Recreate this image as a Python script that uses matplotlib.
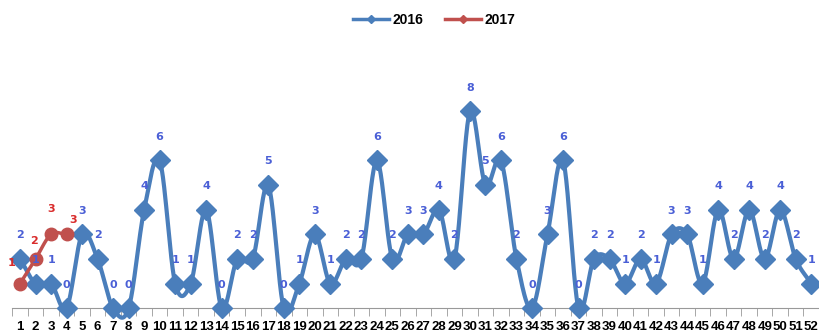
"""Weekly counts 2016 vs 2017, smoothed line chart."""

import matplotlib

matplotlib.use("Agg")
import matplotlib.pyplot as plt
import numpy as np

weeks = list(range(1, 53))
values_2016 = [2, 1, 1, 0, 3, 2, 0, 0, 4, 6, 1, 1, 4, 0, 2, 2, 5, 0, 1, 3,
               1, 2, 2, 6, 2, 3, 3, 4, 2, 8, 5, 6, 2, 0, 3, 6, 0, 2, 2, 1,
               2, 1, 3, 3, 1, 4, 2, 4, 2, 4, 2, 1]
weeks_2017 = [1, 2, 3, 4]
values_2017 = [1, 2, 3, 3]

BLUE = "#4a7ebb"
RED = "#c0504d"
BLUE_TEXT = "#4a5fd6"
RED_TEXT = "#d92b2b"


def smooth(x, y, steps=24):
    """Catmull-Rom curve through the points, like Excel's smoothed line."""
    x = np.asarray(x, dtype=float)
    y = np.asarray(y, dtype=float)
    px = np.concatenate([[2 * x[0] - x[1]], x, [2 * x[-1] - x[-2]]])
    py = np.concatenate([[2 * y[0] - y[1]], y, [2 * y[-1] - y[-2]]])
    t = np.linspace(0, 1, steps, endpoint=False)
    out_x, out_y = [], []
    for i in range(1, len(px) - 2):
        for p, out in ((px, out_x), (py, out_y)):
            p0, p1, p2, p3 = p[i - 1], p[i], p[i + 1], p[i + 2]
            out.extend(0.5 * (2 * p1 + (-p0 + p2) * t
                              + (2 * p0 - 5 * p1 + 4 * p2 - p3) * t**2
                              + (-p0 + 3 * p1 - 3 * p2 + p3) * t**3))
    out_x.append(x[-1])
    out_y.append(y[-1])
    return np.array(out_x), np.array(out_y)


fig = plt.figure(figsize=(8.19, 3.35), dpi=100)
ax = fig.add_axes([0.015, 0.08, 0.985, 0.735])

sx, sy = smooth(weeks, values_2016)
ax.plot(sx, sy, color=BLUE, lw=3, solid_capstyle="round", zorder=2)
ax.plot(weeks, values_2016, ls="none", marker="D", ms=10, color=BLUE, zorder=3)

sx, sy = smooth(weeks_2017, values_2017)
ax.plot(sx, sy, color=RED, lw=2.5, zorder=4)
ax.plot(weeks_2017, values_2017, ls="none", marker="o", ms=9, color=RED, zorder=5)

# legend proxies
ax.plot([], [], color=BLUE, lw=2.5, marker="D", ms=4, label="2016")
ax.plot([], [], color=RED, lw=2.5, marker="D", ms=4, label="2017")

for w, v in zip(weeks, values_2016):
    ax.annotate(str(v), (w, v), xytext=(0, 17), textcoords="offset points",
                ha="center", va="center", fontsize=8, fontweight="bold",
                color=BLUE_TEXT, zorder=6)

offsets_2017 = [(-6, 15), (-1, 13), (0, 18), (5, 10)]
for w, v, off in zip(weeks_2017, values_2017, offsets_2017):
    ax.annotate(str(v), (w, v), xytext=off, textcoords="offset points",
                ha="center", va="center", fontsize=8, fontweight="bold",
                color=RED_TEXT, zorder=6)

ax.set_xlim(0.5, 52.5)
ax.set_ylim(0, 10)
ax.set_xticks(weeks)
ax.set_xticklabels([str(w) for w in weeks], fontsize=9.5, fontweight="bold",
                   family="Liberation Sans")
ax.set_xticks(np.arange(0.5, 53, 1), minor=True)
ax.tick_params(axis="x", which="major", length=0, pad=9)
ax.tick_params(axis="x", which="minor", length=6, color="#999999", direction="out")
ax.set_yticks([])
for side in ("top", "left", "right"):
    ax.spines[side].set_visible(False)
ax.spines["bottom"].set_color("#999999")
for line in ax.lines:
    line.set_clip_on(False)

fig.legend(loc="upper center", bbox_to_anchor=(0.53, 1.0), ncol=2, frameon=False,
           prop={"family": "Liberation Sans", "weight": "bold", "size": 10},
           handlelength=2.6, columnspacing=1.6, handletextpad=0.2)

fig.savefig("out.png", dpi=100)
